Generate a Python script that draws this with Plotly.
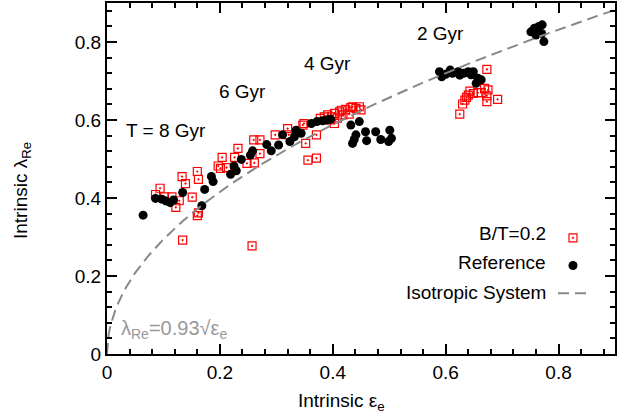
import numpy as np
import plotly.graph_objects as go

# B/T = 0.2 sample (red open squares)
bt_x = [0.086, 0.094, 0.102, 0.115, 0.128, 0.122, 0.133, 0.139, 0.151, 0.160, 0.162, 0.162, 0.160,
        0.134, 0.197, 0.201, 0.204, 0.212, 0.226, 0.232, 0.248, 0.261, 0.257, 0.260, 0.271, 0.271,
        0.298, 0.320, 0.322, 0.347, 0.349, 0.352, 0.356, 0.371, 0.371, 0.378, 0.385, 0.391, 0.394,
        0.398, 0.403, 0.403, 0.408, 0.412, 0.415, 0.418, 0.423, 0.429, 0.432, 0.435, 0.441, 0.447,
        0.450, 0.625, 0.630, 0.634, 0.637, 0.640, 0.643, 0.649, 0.657, 0.663, 0.669, 0.675, 0.673,
        0.673, 0.673, 0.692]
bt_y = [0.409, 0.425, 0.403, 0.403, 0.393, 0.376, 0.455, 0.437, 0.402, 0.468, 0.448, 0.362, 0.355,
        0.292, 0.482, 0.476, 0.504, 0.478, 0.504, 0.527, 0.489, 0.490, 0.277, 0.549, 0.549, 0.514,
        0.562, 0.578, 0.562, 0.587, 0.591, 0.540, 0.497, 0.502, 0.562, 0.604, 0.608, 0.613, 0.600,
        0.608, 0.617, 0.591, 0.605, 0.621, 0.625, 0.613, 0.627, 0.615, 0.632, 0.634, 0.630, 0.634,
        0.626, 0.615, 0.641, 0.651, 0.658, 0.664, 0.674, 0.668, 0.670, 0.670, 0.681, 0.677, 0.662,
        0.647, 0.730, 0.653]

# Reference sample (black filled circles)
ref_x = [0.064, 0.086, 0.097, 0.105, 0.118, 0.112, 0.134, 0.168, 0.173, 0.185, 0.188, 0.219, 0.225,
         0.229, 0.238, 0.254, 0.258, 0.283, 0.291, 0.304, 0.311, 0.324, 0.332, 0.335, 0.344, 0.362,
         0.372, 0.382, 0.390, 0.396, 0.432, 0.447, 0.441, 0.435, 0.438, 0.458, 0.460, 0.476, 0.485,
         0.501, 0.504, 0.499, 0.589, 0.593, 0.600, 0.608, 0.612, 0.622, 0.625, 0.632, 0.640, 0.649,
         0.645, 0.657, 0.654, 0.663, 0.751, 0.757, 0.765, 0.770, 0.774, 0.760, 0.771, 0.763]
ref_y = [0.356, 0.399, 0.397, 0.392, 0.395, 0.388, 0.414, 0.380, 0.422, 0.455, 0.442, 0.461, 0.482,
         0.470, 0.499, 0.510, 0.521, 0.537, 0.521, 0.536, 0.562, 0.545, 0.557, 0.574, 0.566, 0.591,
         0.596, 0.598, 0.600, 0.602, 0.587, 0.596, 0.562, 0.540, 0.550, 0.570, 0.547, 0.570, 0.550,
         0.574, 0.553, 0.545, 0.724, 0.711, 0.717, 0.728, 0.720, 0.724, 0.715, 0.720, 0.724, 0.724,
         0.716, 0.707, 0.694, 0.703, 0.826, 0.835, 0.840, 0.822, 0.801, 0.818, 0.844, 0.828]

# Isotropic system: lambda = 0.93 * sqrt(eps)
iso_coef = 0.93
iso_x = np.linspace(0, 0.9, 300)
iso_y = iso_coef * np.sqrt(iso_x)

age_labels = ["T = 8 Gyr", "6 Gyr", "4 Gyr", "2 Gyr"]
age_x = [0.105, 0.240, 0.390, 0.591]
age_y = [0.572, 0.672, 0.746, 0.823]

legend_labels = ["B/T=0.2", "Reference", "Isotropic System"]
tick_vals = [0, 0.2, 0.4, 0.6, 0.8]
tick_text = ["0", "0.2", "0.4", "0.6", "0.8"]

FONT = "Liberation Sans, Arial, Helvetica, sans-serif"
L, R, T, B = 107, 17, 3, 64
PW, PH = 632 - L - R, 418 - T - B

fig = go.Figure()
fig.add_trace(go.Scatter(x=bt_x, y=bt_y, mode="markers", name="",
                         marker=dict(symbol="square-open-dot", size=8, color="#ff0000",
                                     line=dict(width=1.2, color="#ff0000"))))
fig.add_trace(go.Scatter(x=ref_x, y=ref_y, mode="markers", name="",
                         marker=dict(symbol="circle", size=9, color="black", line=dict(width=0))))
fig.add_trace(go.Scatter(x=iso_x, y=iso_y, mode="lines", name="",
                         line=dict(color="#888888", width=2, dash="11px,6px")))

annotations = []
for t, x, y in zip(age_labels, age_x, age_y):
    annotations.append(dict(x=x, y=y, xref="x", yref="y", text=t, showarrow=False,
                            font=dict(size=19, color="black", family=FONT)))
annotations.append(dict(x=0.022, y=0.062, xref="x", yref="y", xanchor="left",
                        text="λ<sub>Re</sub>=0.93√ε<sub>e</sub>", showarrow=False,
                        font=dict(size=20, color="#999999", family=FONT)))
leg_y_px = [233, 262, 292]
for t, py in zip(legend_labels, leg_y_px):
    annotations.append(dict(x=(548 - L) / PW, y=(418 - B - py) / PH, xref="paper", yref="paper",
                            xanchor="right", yanchor="middle", text=t, showarrow=False,
                            font=dict(size=19, color="black", family=FONT)))
# axis titles
annotations.append(dict(x=(341 - L) / PW, y=(418 - B - 402) / PH, xref="paper", yref="paper",
                        xanchor="center", yanchor="middle", text="Intrinsic ε<sub>e</sub>",
                        showarrow=False, font=dict(size=19, color="black", family=FONT)))
annotations.append(dict(x=(22 - L) / PW, y=(418 - B - 191) / PH, xref="paper", yref="paper",
                        xanchor="center", yanchor="middle", text="Intrinsic λ<sub>Re</sub>",
                        textangle=-90, showarrow=False, font=dict(size=19, color="black", family=FONT)))

axis_common = dict(showline=True, linecolor="black", linewidth=2,
                   ticks="inside", ticklen=10, tickwidth=1.5, tickcolor="black",
                   showgrid=False, zeroline=False, range=[0, 0.9],
                   tickvals=tick_vals, ticktext=tick_text,
                   tickfont=dict(size=19, family=FONT, color="black"),
                   minor=dict(ticks="inside", ticklen=5, tickwidth=1.5, tickcolor="black",
                              dtick=0.04, tick0=0, showgrid=False))

fig.update_layout(
    width=632, height=418,
    margin=dict(l=L, r=R, t=T, b=B),
    paper_bgcolor="white", plot_bgcolor="white",
    font=dict(family=FONT, color="black"),
    showlegend=True,
    legend=dict(x=(553 - L) / PW, y=(418 - B - 219) / PH, xanchor="left", yanchor="top",
                bgcolor="rgba(0,0,0,0)", font=dict(size=19, family=FONT),
                itemwidth=30, tracegroupgap=0),
    annotations=annotations,
    xaxis=dict(**axis_common),
    yaxis=dict(**axis_common),
    xaxis2=dict(**axis_common, overlaying="x", side="top", showticklabels=False, matches="x"),
    yaxis2=dict(**axis_common, overlaying="y", side="right", showticklabels=False, matches="y"),
)
# invisible helper trace to activate mirrored axes (top/right ticks)
fig.add_trace(go.Scatter(x=[None], y=[None], xaxis="x2", yaxis="y2", showlegend=False,
                         hoverinfo="skip", mode="markers"))

fig.write_html("out.html")
